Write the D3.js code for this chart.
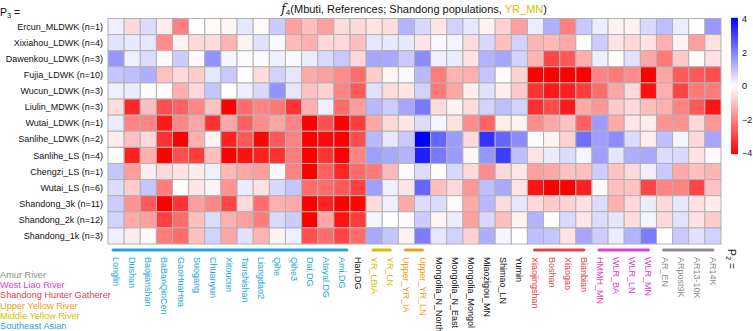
<!DOCTYPE html>
<html>
<head>
<meta charset="utf-8">
<script src="https://cdn.jsdelivr.net/npm/d3@7"></script>
<style>
  body { margin: 0; background: #fff; }
  svg { font-family: "Liberation Sans", Arial, sans-serif; }
</style>
</head>
<body>
<div id="chart"></div>
<script>
const rowLabels = [
  "Ercun_MLDWK (n=1)", "Xixiahou_LDWK (n=4)", "Dawenkou_LDWK (n=3)", "Fujia_LDWK (n=10)",
  "Wucun_LDWK (n=3)", "Liulin_MDWK (n=3)", "Wutai_LDWK (n=1)", "Sanlihe_LDWK  (n=2)",
  "Sanlihe_LS (n=4)", "Chengzi_LS (n=1)", "Wutai_LS (n=6)", "Shandong_3k (n=11)",
  "Shandong_2k (n=12)", "Shandong_1k (n=3)"
];

const colLabels = [
  "Longlin", "Dushan", "Baojianshan", "BaBanQinCen", "GaoHuaHua", "Suogang", "Chuanyun",
  "Xitoucun", "Tanshishan", "Liangdao2", "Qihe", "Qihe3", "Dai.DG", "Atayal.DG", "Ami.DG",
  "Han.DG", "YR_LBIA", "YR_LN", "Upper_YR_IA", "Upper_YR_LN", "Mongolia_N_North",
  "Mongolia_N_East", "Mongolia_Mongol", "Miaozigou_MN", "Shimao_LN", "Yumin",
  "Xiaojingshan", "Boshan", "Xiaogao", "Bianbian", "HMMH_MN", "WLR_BA", "WLR_LN", "WLR_MN",
  "AR_EN", "ARpost9K", "AR13-10K", "AR14K"
];

// group of each column (null = no group)
const colGroups = [
  "SEA", "SEA", "SEA", "SEA", "SEA", "SEA", "SEA", "SEA", "SEA", "SEA", "SEA", "SEA", "SEA", "SEA", "SEA",
  null, "MYR", "MYR", "UYR", "UYR", null, null, null, null, null, null,
  "SHG", "SHG", "SHG", "SHG", "WLR", "WLR", "WLR", "WLR", "AR", "AR", "AR", "AR"
];

const groupNames = ["AR", "WLR", "SHG", "UYR", "MYR", "SEA"];
const groupTitles = ["Amur River", "West Liao River", "Shandong Hunter Gatherer",
  "Upper Yellow River", "Middle Yellow River", "Southeast Asian"];
const groupColors = ["#8c8c8c", "#e040d0", "#e8404c", "#f0a020", "#d2c200", "#22a6d6"];

// f4 values, one array per row (P3), in column order (P2)
const values = [
  [0.25, -0.6, 0.55, -0.3, -2.0, 0, -0.1, -0.15, 0.4, -0.1, 0.8, -1.5, -1.0, -1.5, -0.55, -0.6, -0.45, -0.55, 1.2,
   0.6, -0.4, 0.7, 0.4, -0.2, -0.7, -1.5, 0.3, 1.25, -2.0, 0.85, 0.3, -0.2, -0.2, 0.6, 1.0, 0.3, 0, 1.6],
  [0.45, 0.35, 0.4, -1.8, -0.2, -0.6, -0.55, -1.2, -0.2, 0.45, 0.1, -1.1, -1.25, -0.6, -0.6, -1.0, 0.4, 0.35, 0.35,
   -0.4, 0.1, 0.15, -0.55, 0.6, -1.0, 0.7, -1.2, -1.1, -1.35, -0.05, 0.8, -0.45, -0.6, -0.45, -1.25, -0.2, -1.5, -0.45],
  [1.65, 0.25, 0.55, -0.1, 0.8, -0.1, 1.7, 0.15, 0.05, 0.05, 0.25, 0.1, 0.3, 0.6, 0.85, -0.6, 1.4, 1.35, 0.85,
   1.8, 0.25, 0.3, -0.45, 1.2, 1.4, 0.7, -1.2, -2.9, -2.6, -1.25, 0.25, -0.05, 0.45, -1.4, -2.1, -0.85, -0.05, -0.45],
  [0.9, 1.0, 1.25, -0.95, -0.6, -0.8, 0.4, 0.85, 0, -0.55, 0.7, 0.4, -1.35, -1.5, -1.8, -2.3, -0.8, -0.15, 0.1,
   1.1, -2.05, -1.2, -1.25, 0.9, -0.1, -0.7, -4, -4, -4, -4, -1.95, -2.1, -1.8, -4, -1.4, -2.6, -2.6, -2.75],
  [0.25, 0.3, -0.05, -0.1, -1.25, -0.6, 0.9, 0, 0.27, 0.6, 1.7, 0.4, -0.95, -0.7, -1.95, -2.6, 0.45, -0.55, -0.4,
   0.7, -2.1, -1.4, -0.3, 0.45, -0.3, -0.85, -3.2, -3.6, -3.5, -3.05, -2.3, -1.4, -0.6, -3.75, -1.25, -2.9, -2.1, -2.05],
  [-0.55, -3.4, -1.0, -2.75, -2.45, -1.9, -0.95, -4, -2.3, -1.95, -2.1, -3.2, -1.25, 0.25, -2.3, -1.55, 1.1, 0.8, 1.4,
   2.1, -0.55, -0.2, -0.55, 0.7, 1.0, 0.7, -3.3, -2.8, -3.6, -1.35, -1.65, -0.85, -0.6, -1.0, -1.25, -1.95, -2.6, -3.7],
  [0.3, -1.95, -1.95, -3.6, -1.9, -1.4, -3.2, -1.4, -2.5, -1.8, -1.4, -1.95, -4, -2.75, -4, -3.05, -1.4, -0.6, -0.4,
   0.55, 0.15, -0.45, -1.8, -2.45, -0.3, -0.2, -1.8, -1.35, -0.95, -2.5, 1.55, -1.35, -0.4, -0.3, -1.7, -1.7, -0.6, -1.65],
  [-0.3, -0.95, -0.6, -3.2, -4, -1.25, -0.15, -3.45, -2.6, -3.9, -2.6, -1.95, -4, -3.85, -4, -2.8, 1.1, 0.4, 0.85,
   4, 2.4, 1.55, -0.6, 3.2, 2.4, 1.8, 0.05, -0.2, -0.7, 2.25, 1.5, 1.8, 0.55, -0.3, 1.0, 0.15, -0.6, 1.4],
  [0.05, -3.5, -1.25, -4, -2.75, -3.05, -1.0, -4, -3.75, -3.5, -3.2, -2.05, -4, -3.2, -4, -1.95, 1.5, 1.35, 1.2,
   3.5, 2.1, 1.55, -0.15, 1.65, 3.05, 1.0, -0.45, 0.3, 0.55, 0.15, 1.5, 0.4, 1.25, 1.35, 0.55, 0.6, -0.45, -0.1],
  [0.9, -1.55, -0.3, -0.6, -0.45, -0.3, 0.25, -1.1, -1.4, -1.55, 0.1, -1.95, -4, -2.5, -3.4, -2.3, -2.1, -1.1, -0.1,
   0.55, -0.05, 0.6, -0.6, -1.8, -0.6, -0.4, -1.5, -1.4, -0.95, -1.0, 0.8, -0.95, -0.6, 0.25, 0.85, -1.35, -1.0, -1.2],
  [0.55, -0.8, 0.9, -2.05, 0, -0.4, -0.2, -1.7, 0.3, -0.45, 0.6, 0.9, -2.3, -2.3, -2.6, -3.0, 1.5, 0.25, -0.4,
   2.4, -1.0, -0.6, -1.65, 1.0, 1.35, -0.45, -3.7, -4, -4, -3.5, -0.1, -1.0, -0.95, -2.9, -1.95, -1.95, -2.9, -0.95],
  [0.8, -1.7, -2.6, -4, -3.2, -1.55, -1.9, -2.9, -0.6, -2.3, -1.25, -1.35, -4, -3.45, -4, -3.9, -0.55, 0.25, -1.35,
   0.55, 0.55, -0.1, -1.35, 1.1, -0.55, 0.4, -0.6, -0.85, -0.7, -0.45, 0.55, -1.25, -0.6, 0.3, -0.6, 0.4, -0.45, -0.3],
  [0.7, -1.35, -1.5, -3.0, -2.3, -1.0, 0.55, -1.25, -1.5, -2.05, 0.6, 0.8, -4, -1.4, -3.7, -3.05, 0.15, 0, 0.05,
   0.8, -0.15, 0.3, -1.5, 0.6, -1.0, -0.2, 1.2, 0, 0.6, -0.4, 0.55, 0.4, -0.55, 0.15, -0.6, 0.45, -0.45, -0.8],
  [0.25, -0.3, -0.1, -2.05, -2.3, -1.0, 0.7, -1.4, 0.45, -1.2, -0.2, 0.25, -2.75, -2.3, -2.9, -2.3, 1.35, 0.9, -0.2,
   2.05, 0.4, 0.7, -0.7, 1.25, 0.15, 0, 1.0, 0.9, -0.45, 1.4, 0.8, 0.3, 1.2, 2.05, 0, 0.85, 0.45, 0.7]
];

const legendTicks = [4, 2, 0, -2, -4];

const width = 753;
const height = 331;
const margin = { top: 18.5, left: 108, right: 32, bottom: 87 };

const svg = d3.select("#chart")
  .append("svg")
  .attr("width", width)
  .attr("height", height);

const x = d3.scaleBand()
  .domain(colLabels)
  .range([margin.left, width - margin.right]);

const y = d3.scaleBand()
  .domain(rowLabels)
  .range([margin.top, height - margin.bottom]);

const color = d3.scaleLinear()
  .domain([-4, 0, 4])
  .range(["#ff0000", "#ffffff", "#0000ff"])
  .clamp(true);

const groupColor = d3.scaleOrdinal(groupNames, groupColors);

// cells
const cells = [];
values.forEach((row, i) => {
  row.forEach((v, j) => cells.push({ r: rowLabels[i], c: colLabels[j], v: v }));
});

svg.append("g")
  .selectAll("rect")
  .data(cells)
  .enter()
  .append("rect")
  .attr("x", d => x(d.c))
  .attr("y", d => y(d.r))
  .attr("width", x.bandwidth())
  .attr("height", y.bandwidth())
  .attr("fill", d => color(d.v))
  .attr("stroke", "#b2b2b2")
  .attr("stroke-width", 1);

// row labels
svg.append("g")
  .selectAll("text")
  .data(rowLabels)
  .enter()
  .append("text")
  .attr("x", margin.left - 5)
  .attr("y", d => y(d) + y.bandwidth() / 2)
  .attr("dy", "0.35em")
  .attr("text-anchor", "end")
  .style("font-size", "9px")
  .attr("fill", "#111")
  .text(d => d);

// column labels (rotated)
const colTop = height - margin.bottom + 13;
svg.append("g")
  .selectAll("text")
  .data(colLabels)
  .enter()
  .append("text")
  .attr("transform", d => `translate(${x(d) + x.bandwidth() / 2 - 3}, ${colTop}) rotate(90)`)
  .attr("text-anchor", "start")
  .style("font-size", "9px")
  .attr("fill", (d, i) => colGroups[i] ? groupColor(colGroups[i]) : "#111")
  .text(d => d);

// group bars above the column labels
const barY = height - margin.bottom + 6;
groupNames.forEach(g => {
  const cols = colLabels.filter((c, i) => colGroups[i] === g);
  if (!cols.length) return;
  const x0 = x(cols[0]) + x.bandwidth() / 2;
  const x1 = x(cols[cols.length - 1]) + x.bandwidth() / 2;
  svg.append("line")
    .attr("x1", g === "SEA" ? x0 - 3 : x0 - 1)
    .attr("x2", g === "SEA" ? x1 + 5 : x1)
    .attr("y1", barY)
    .attr("y2", barY)
    .attr("stroke", groupColor(g))
    .attr("stroke-width", 3)
    .attr("stroke-linecap", "round");
});

// title
const title = svg.append("text")
  .attr("x", 414)
  .attr("y", 13)
  .attr("text-anchor", "middle")
  .style("font-size", "11px")
  .attr("fill", "#111");
title.append("tspan")
  .style("font-family", "'DejaVu Serif', 'Liberation Serif', serif")
  .style("font-style", "italic")
  .style("font-size", "13px")
  .text("f");
title.append("tspan")
  .attr("dy", 2)
  .style("font-size", "8px")
  .text("4");
title.append("tspan")
  .attr("dy", -2)
  .text("(Mbuti, References; Shandong populations, ");
title.append("tspan")
  .attr("fill", "#d2c200")
  .text("YR_MN");
title.append("tspan")
  .text(")");

// P3 label
const p3 = svg.append("text")
  .attr("x", 0)
  .attr("y", 16)
  .style("font-size", "10.5px")
  .attr("fill", "#111");
p3.append("tspan").text("P");
p3.append("tspan").attr("dy", 2).style("font-size", "7.5px").text("3");
p3.append("tspan").attr("dy", -2).text(" =");

// P2 label (rotated)
const p2 = svg.append("text")
  .attr("transform", `translate(728, 249) rotate(90)`)
  .style("font-size", "10.5px")
  .attr("fill", "#111");
p2.append("tspan").text("P");
p2.append("tspan").attr("dy", 2).style("font-size", "7.5px").text("2");
p2.append("tspan").attr("dy", -2).text(" =");

// colour legend
const legY = d3.scaleLinear().domain([4, -4]).range([19.3, 152.7]);
const defs = svg.append("defs");
const grad = defs.append("linearGradient")
  .attr("id", "cbar")
  .attr("x1", 0).attr("x2", 0).attr("y1", 0).attr("y2", 1);
d3.range(4, -4.01, -0.5).forEach(v => {
  grad.append("stop")
    .attr("offset", (4 - v) / 8)
    .attr("stop-color", color(v));
});
svg.append("rect")
  .attr("x", 731)
  .attr("y", legY(4) - 1.5)
  .attr("width", 7)
  .attr("height", legY(-4) - legY(4) + 3)
  .attr("fill", "url(#cbar)");

svg.append("g")
  .selectAll("text")
  .data(legendTicks)
  .enter()
  .append("text")
  .attr("x", 742)
  .attr("y", d => legY(d))
  .attr("dy", "0.35em")
  .style("font-size", "9px")
  .attr("fill", "#111")
  .text(d => d < 0 ? "\u2212" + Math.abs(d) : d);

// group legend, bottom left
svg.append("g")
  .selectAll("text")
  .data(groupNames)
  .enter()
  .append("text")
  .attr("x", 0)
  .attr("y", (d, i) => 274.5 + i * 10.3)
  .attr("dy", "0.35em")
  .style("font-size", "9.2px")
  .attr("fill", d => groupColor(d))
  .text((d, i) => groupTitles[i]);
</script>
</body>
</html>
